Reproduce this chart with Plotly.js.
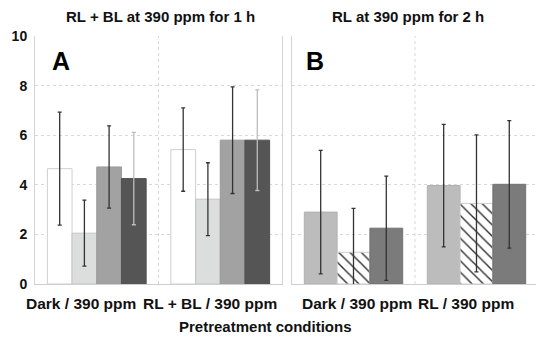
<!DOCTYPE html>
<html>
<head>
<meta charset="utf-8">
<script src="https://cdn.plot.ly/plotly-3.0.1.min.js"></script>
<style>html,body{margin:0;padding:0;background:#fff;}#chart{width:536px;height:340px;}</style>
</head>
<body>
<div id="chart"></div>
<script>
// Categories
const categoriesA = ['Dark / 390 ppm', 'RL + BL / 390 ppm'];
const categoriesB = ['Dark / 390 ppm', 'RL / 390 ppm'];
// Panel A series (means and error)
const a1 = [4.65, 5.42];   const a1Err = [2.28, 1.68];
const a2 = [2.05, 3.42];   const a2Err = [1.33, 1.47];
const a3 = [4.72, 5.80];   const a3Err = [1.66, 2.15];
const a4 = [4.25, 5.80];   const a4Err = [1.86, 2.03];
// Panel B series
const b1 = [2.90, 3.97];   const b1Err = [2.49, 2.47];
const b2 = [1.28, 3.25];   const b2Err = [1.77, 2.76];
const b3 = [2.25, 4.02];   const b3Err = [2.10, 2.57];
// Tick values
const yTicks = [0, 2, 4, 6, 8, 10];
const titleA = 'RL + BL at 390 ppm for 1 h';
const titleB = 'RL at 390 ppm for 2 h';
const xTitle = 'Pretreatment conditions';

const FONT = 'Arial, "Liberation Sans", sans-serif';

function err(arr, color) {
  return {type: 'data', array: arr, visible: true, color: color, thickness: 1.3, width: 2};
}

const traces = [
  {type: 'bar', x: categoriesA, y: a1, xaxis: 'x', yaxis: 'y',
   marker: {color: '#ffffff', line: {color: '#cfcfcf', width: 1}}, error_y: err(a1Err, '#333')},
  {type: 'bar', x: categoriesA, y: a2, xaxis: 'x', yaxis: 'y',
   marker: {color: '#dcdedd', line: {color: '#c4c4c4', width: 1}}, error_y: err(a2Err, '#333')},
  {type: 'bar', x: categoriesA, y: a3, xaxis: 'x', yaxis: 'y',
   marker: {color: '#a2a2a2', line: {color: '#9a9a9a', width: 1}}, error_y: err(a3Err, '#333')},
  {type: 'bar', x: categoriesA, y: a4, xaxis: 'x', yaxis: 'y',
   marker: {color: '#555555', line: {color: '#505050', width: 1}}, error_y: err(a4Err, '#bdbdbd')},
  {type: 'bar', x: categoriesB, y: b1, xaxis: 'x2', yaxis: 'y2',
   marker: {color: '#bcbcbc', line: {color: '#b0b0b0', width: 1}}, error_y: err(b1Err, '#333')},
  {type: 'bar', x: categoriesB, y: b2, xaxis: 'x2', yaxis: 'y2',
   marker: {color: '#ffffff', line: {color: '#cccccc', width: 1},
            pattern: {shape: '\\', fgcolor: '#333333', bgcolor: '#ffffff', size: 8, solidity: 0.18}},
   error_y: err(b2Err, '#333')},
  {type: 'bar', x: categoriesB, y: b3, xaxis: 'x2', yaxis: 'y2',
   marker: {color: '#7b7b7b', line: {color: '#727272', width: 1}}, error_y: err(b3Err, '#333')}
];

const boldFont = (size) => ({family: FONT, size: size, color: '#111', weight: 'bold'});

// x category labels drawn as text annotations at each category (small per-label offsets as in the reference)
const labelShiftsA = [-16, -10.5];
const labelShiftsB = [3, -10];
const catLabels = [];
categoriesA.forEach((c, i) => catLabels.push({text: c, xref: 'x', yref: 'y domain', x: c, y: 0,
  yshift: -19, xshift: labelShiftsA[i], showarrow: false, xanchor: 'center', yanchor: 'middle', font: boldFont(15.5)}));
categoriesB.forEach((c, i) => catLabels.push({text: c, xref: 'x2', yref: 'y2 domain', x: c, y: 0,
  yshift: -19, xshift: labelShiftsB[i], showarrow: false, xanchor: 'center', yanchor: 'middle', font: boldFont(15.5)}));

const layout = {
  width: 536, height: 340,
  margin: {l: 35, r: 0, t: 36, b: 56},
  paper_bgcolor: '#ffffff', plot_bgcolor: '#ffffff',
  showlegend: false,
  barmode: 'group', bargap: 0.2, bargroupgap: 0,
  font: {family: FONT},
  xaxis: {domain: [0, 0.493], type: 'category', range: [-0.5, 1.5], anchor: 'y',
          showgrid: false, zeroline: false, showline: true, linecolor: '#cfcfcf', linewidth: 1,
          ticks: '', showticklabels: false},
  xaxis2: {domain: [0.513, 1], type: 'category', range: [-0.5, 1.484], anchor: 'y2',
          showgrid: false, zeroline: false, showline: true, linecolor: '#cfcfcf', linewidth: 1,
          ticks: '', showticklabels: false},
  yaxis: {range: [0, 10], tickvals: yTicks, anchor: 'x', showgrid: true, gridcolor: '#d8d8d8',
          griddash: 'dot', gridwidth: 1, zeroline: false, showline: true, mirror: true,
          linecolor: '#d4d4d4', linewidth: 1, ticks: 'outside', ticklen: 4, tickcolor: 'rgba(0,0,0,0)',
          tickfont: boldFont(14)},
  yaxis2: {range: [0, 10], tickvals: yTicks, anchor: 'x2', showgrid: true, gridcolor: '#d8d8d8',
          griddash: 'dot', gridwidth: 1, zeroline: false, showline: true, mirror: true,
          linecolor: '#d4d4d4', linewidth: 1, showticklabels: false, ticks: ''},
  shapes: [
    {type: 'line', xref: 'x', yref: 'y domain', x0: 0.5, x1: 0.5, y0: 0, y1: 1,
     line: {color: '#d8d8d8', width: 1, dash: 'dot'}, layer: 'below'},
    {type: 'line', xref: 'x2', yref: 'y2 domain', x0: 0.5, x1: 0.5, y0: 0, y1: 1,
     line: {color: '#d8d8d8', width: 1, dash: 'dot'}, layer: 'below'}
  ],
  annotations: [
    {text: titleA, xref: 'x domain', yref: 'paper', x: 0.51, y: 1, yshift: 20, showarrow: false,
     xanchor: 'center', yanchor: 'middle', font: boldFont(15)},
    {text: titleB, xref: 'x2 domain', yref: 'paper', x: 0.475, y: 1, yshift: 20, showarrow: false,
     xanchor: 'center', yanchor: 'middle', font: boldFont(15)},
    {text: 'A', xref: 'x domain', yref: 'y domain', x: 0.06, y: 0.9, showarrow: false,
     xanchor: 'left', yanchor: 'middle', font: {family: FONT, size: 25, color: '#000', weight: 'bold'}},
    {text: 'B', xref: 'x2 domain', yref: 'y2 domain', x: 0.048, y: 0.9, showarrow: false,
     xanchor: 'left', yanchor: 'middle', font: {family: FONT, size: 25, color: '#000', weight: 'bold'}},
    {text: xTitle, xref: 'paper', yref: 'paper', x: 0.461, y: 0, yshift: -42, showarrow: false,
     xanchor: 'center', yanchor: 'middle', font: boldFont(15)}
  ].concat(catLabels)
};

Plotly.newPlot('chart', traces, layout, {displayModeBar: false, staticPlot: true});
</script>
</body>
</html>
